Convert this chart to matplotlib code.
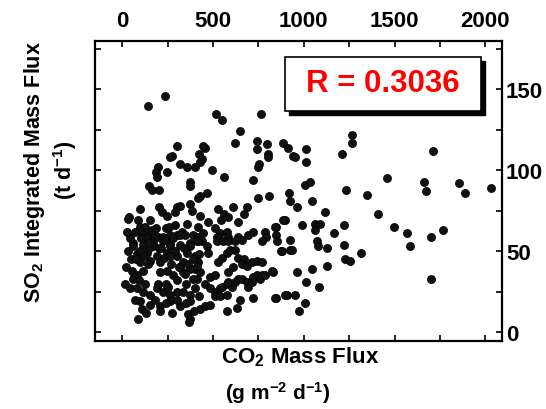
import numpy as np
import matplotlib.pyplot as plt
from matplotlib.patches import Rectangle
from matplotlib.ticker import MultipleLocator

plt.rcParams['font.family'] = ['Liberation Sans', 'DejaVu Sans']
plt.rcParams['font.weight'] = 'bold'
plt.rcParams['mathtext.fontset'] = 'custom'
plt.rcParams['mathtext.rm'] = 'Liberation Sans:bold'
plt.rcParams['mathtext.it'] = 'Liberation Sans:bold'
plt.rcParams['mathtext.bf'] = 'Liberation Sans:bold'
plt.rcParams['mathtext.default'] = 'rm'

# CO2 mass flux (g m-2 d-1) and SO2 integrated mass flux (t d-1)
co2_upper = [143, 236, 516, 550, 764, 648, 621, 302, 275, 456, 445, 423, 440, 742, 742,
             797, 802, 885, 912, 264, 940, 1264, 1264, 1209, 1011, 1011, 951, 1456, 1231,
             1346, 1005, 1033, 1044, 962, 1115, 1407, 1495, 989, 1060, 1060, 1088, 1165,
             1220, 1220, 1071, 1077, 1126, 1225, 1253, 1313, 962, 1044, 1126, 1011, 1082,
             951, 1005, 973, 1566, 1582, 1703, 1769, 1703, 1714, 1659, 1670, 1852, 1885,
             2033, 846, 846, 896, 923, 874, 923, 830, 846, 907]
so2_upper = [140, 146, 135, 131, 135, 124, 117, 115, 109, 114, 115, 110, 107, 118, 113,
             116, 110, 117, 114, 108, 109, 122, 117, 110, 113, 105, 108, 95, 88,
             85, 91, 93, 81, 77, 74, 73, 65, 66, 67, 63, 67, 61,
             66, 54, 56, 53, 52, 45, 44, 49, 37, 39, 41, 31, 28,
             23, 18, 13, 61, 53, 59, 63, 33, 112, 93, 87, 92, 86,
             89, 65, 60, 69, 57, 50, 51, 37, 21, 23]

co2_mid = [429, 401, 495, 560, 753, 747, 802, 720, 467, 429, 747, 808, 918, 923, 527,
           560, 544, 582, 610, 687, 670, 429, 473, 637, 885, 841, 511, 538, 577, 522,
           582, 637, 692, 720, 786, 791, 445, 440, 769, 852,
           418, 467, 473, 401, 418, 401, 429, 412, 522, 555, 582, 621, 659, 577, 593,
           621, 549, 527, 637, 670, 659, 687, 714, 742, 769, 610, 582, 879, 934, 824,
           484, 511, 456, 484, 511, 538, 549, 577, 604, 582, 621, 637, 659, 687, 692,
           714, 720, 742, 758, 769, 786, 511, 538, 577, 648, 720, 841, 896, 429, 456,
           484, 577, 632]
so2_mid = [105, 102, 100, 96, 104, 102, 108, 94, 86, 84, 83, 84, 86, 81, 76,
           73, 69, 71, 77, 77, 73, 72, 68, 68, 69, 65, 64, 61, 62, 59,
           59, 59, 60, 62, 62, 59, 61, 56, 56, 56,
           56, 53, 49, 47, 43, 39, 37, 33, 56, 56, 56, 56, 57, 49, 51,
           51, 46, 43, 46, 45, 42, 41, 43, 44, 43, 40, 37, 50, 51, 38,
           34, 35, 30, 27, 25, 27, 28, 30, 28, 31, 31, 33, 33, 31, 28,
           31, 34, 35, 33, 35, 35, 22, 22, 23, 20, 21, 21, 23, 14, 16,
           17, 13, 15]

co2_low = [319, 357, 198, 247, 187, 374, 374, 148, 165, 203, 418, 203, 220, 247, 302,
           319, 291, 374, 385, 99, 38, 88, 99, 126, 154, 137, 110, 154, 181, 198,
           225, 264, 302, 330, 357, 346, 390, 418, 418, 60, 170, 264, 374, 33, 192,
           60, 115, 170, 225, 264, 319, 374, 412, 82, 137, 192, 99, 154, 209, 247,
           302, 335, 390, 357, 55, 115, 82, 209, 247, 280, 335, 319, 374, 412, 16,
           44, 82, 115, 154, 192, 225, 264, 302, 335, 374, 401, 99, 154, 209, 264,
           319, 374, 110, 209, 275, 363, 374, 368, 88,
           70, 130, 240, 290, 340, 50, 230, 270, 290, 125, 240, 300, 350, 390, 60,
           100, 150, 200, 250, 320, 280, 360, 420, 70, 130, 180, 240, 300, 350, 395, 420,
           20, 45, 75, 120, 165, 215, 30, 65, 105, 145, 185, 235, 265, 310, 345,
           25, 90, 140, 195, 255]
so2_low = [104, 102, 102, 99, 99, 93, 90, 90, 88, 88, 83, 77, 74, 72, 77,
           78, 74, 79, 75, 76, 71, 69, 65, 65, 69, 62, 60, 59, 60, 59,
           59, 60, 60, 62, 67, 60, 60, 65, 59, 55, 55, 55, 55, 70, 96,
           53, 54, 53, 56, 53, 54, 53, 56, 48, 49, 47, 43, 44, 43, 49,
           47, 43, 45, 49, 38, 38, 35, 37, 38, 35, 37, 40, 39, 41, 30,
           27, 27, 25, 23, 27, 25, 23, 25, 25, 23, 27, 19, 17, 16, 19,
           16, 19, 14, 13, 12, 11, 8, 6, 8,
           62, 58, 64, 66, 52, 45, 46, 42, 50, 30, 30, 32, 30, 33, 33,
           50, 52, 52, 28, 60, 58, 42, 48, 20, 12, 20, 18, 20, 18, 13, 22,
           40, 58, 45, 47, 63, 52, 50, 34, 58, 55, 64, 57, 47, 40, 36,
           62, 32, 42, 30, 65]

co2 = np.array(co2_upper + co2_mid + co2_low)
so2 = np.array(so2_upper + so2_mid + so2_low)

fig = plt.figure(figsize=(5.46, 4.10), dpi=100)
ax = fig.add_axes([0.174, 0.166, 0.745, 0.732])

ax.scatter(co2, so2, s=34, c='#111111', edgecolors='black', linewidths=0.5, zorder=3)

ax.set_xlim(-150, 2090)
ax.set_ylim(-5.5, 180)

for s in ax.spines.values():
    s.set_linewidth(1.6)

ax.xaxis.set_major_locator(MultipleLocator(500))
ax.xaxis.set_minor_locator(MultipleLocator(250))
ax.yaxis.set_major_locator(MultipleLocator(50))
ax.yaxis.set_minor_locator(MultipleLocator(25))
ax.tick_params(which='both', direction='in', top=True, right=True, width=1.2, length=4)
ax.tick_params(labelbottom=False, labelleft=False, labeltop=True, labelright=True,
               labelsize=16)
ax.tick_params(axis='x', pad=7)
ax.tick_params(axis='y', pad=3)
for lab in ax.get_xticklabels() + ax.get_yticklabels():
    lab.set_fontweight('bold')

# correlation box with drop shadow
ax.add_patch(Rectangle((0.477, 0.753), 0.481, 0.18, transform=ax.transAxes,
                       facecolor='black', edgecolor='black', zorder=4))
ax.add_patch(Rectangle((0.467, 0.767), 0.481, 0.18, transform=ax.transAxes,
                       facecolor='white', edgecolor='black', linewidth=1.2, zorder=5))
ax.text(0.707, 0.858, 'R = 0.3036', transform=ax.transAxes, color='red',
        fontsize=22.5, fontweight='bold', ha='center', va='center', zorder=6)

fig.text(0.064, 0.58, 'SO$_2$ Integrated Mass Flux', rotation=90, fontsize=15.5,
         fontweight='bold', ha='center', va='center')
fig.text(0.119, 0.585, '(t d$^{-1}$)', rotation=90, fontsize=15.5,
         fontweight='bold', ha='center', va='center')
fig.text(0.55, 0.128, 'CO$_2$ Mass Flux', fontsize=16, fontweight='bold',
         ha='center', va='center')
fig.text(0.508, 0.042, '(g m$^{-2}$ d$^{-1}$)', fontsize=15, fontweight='bold',
         ha='center', va='center')

fig.savefig('out.png', dpi=100)
